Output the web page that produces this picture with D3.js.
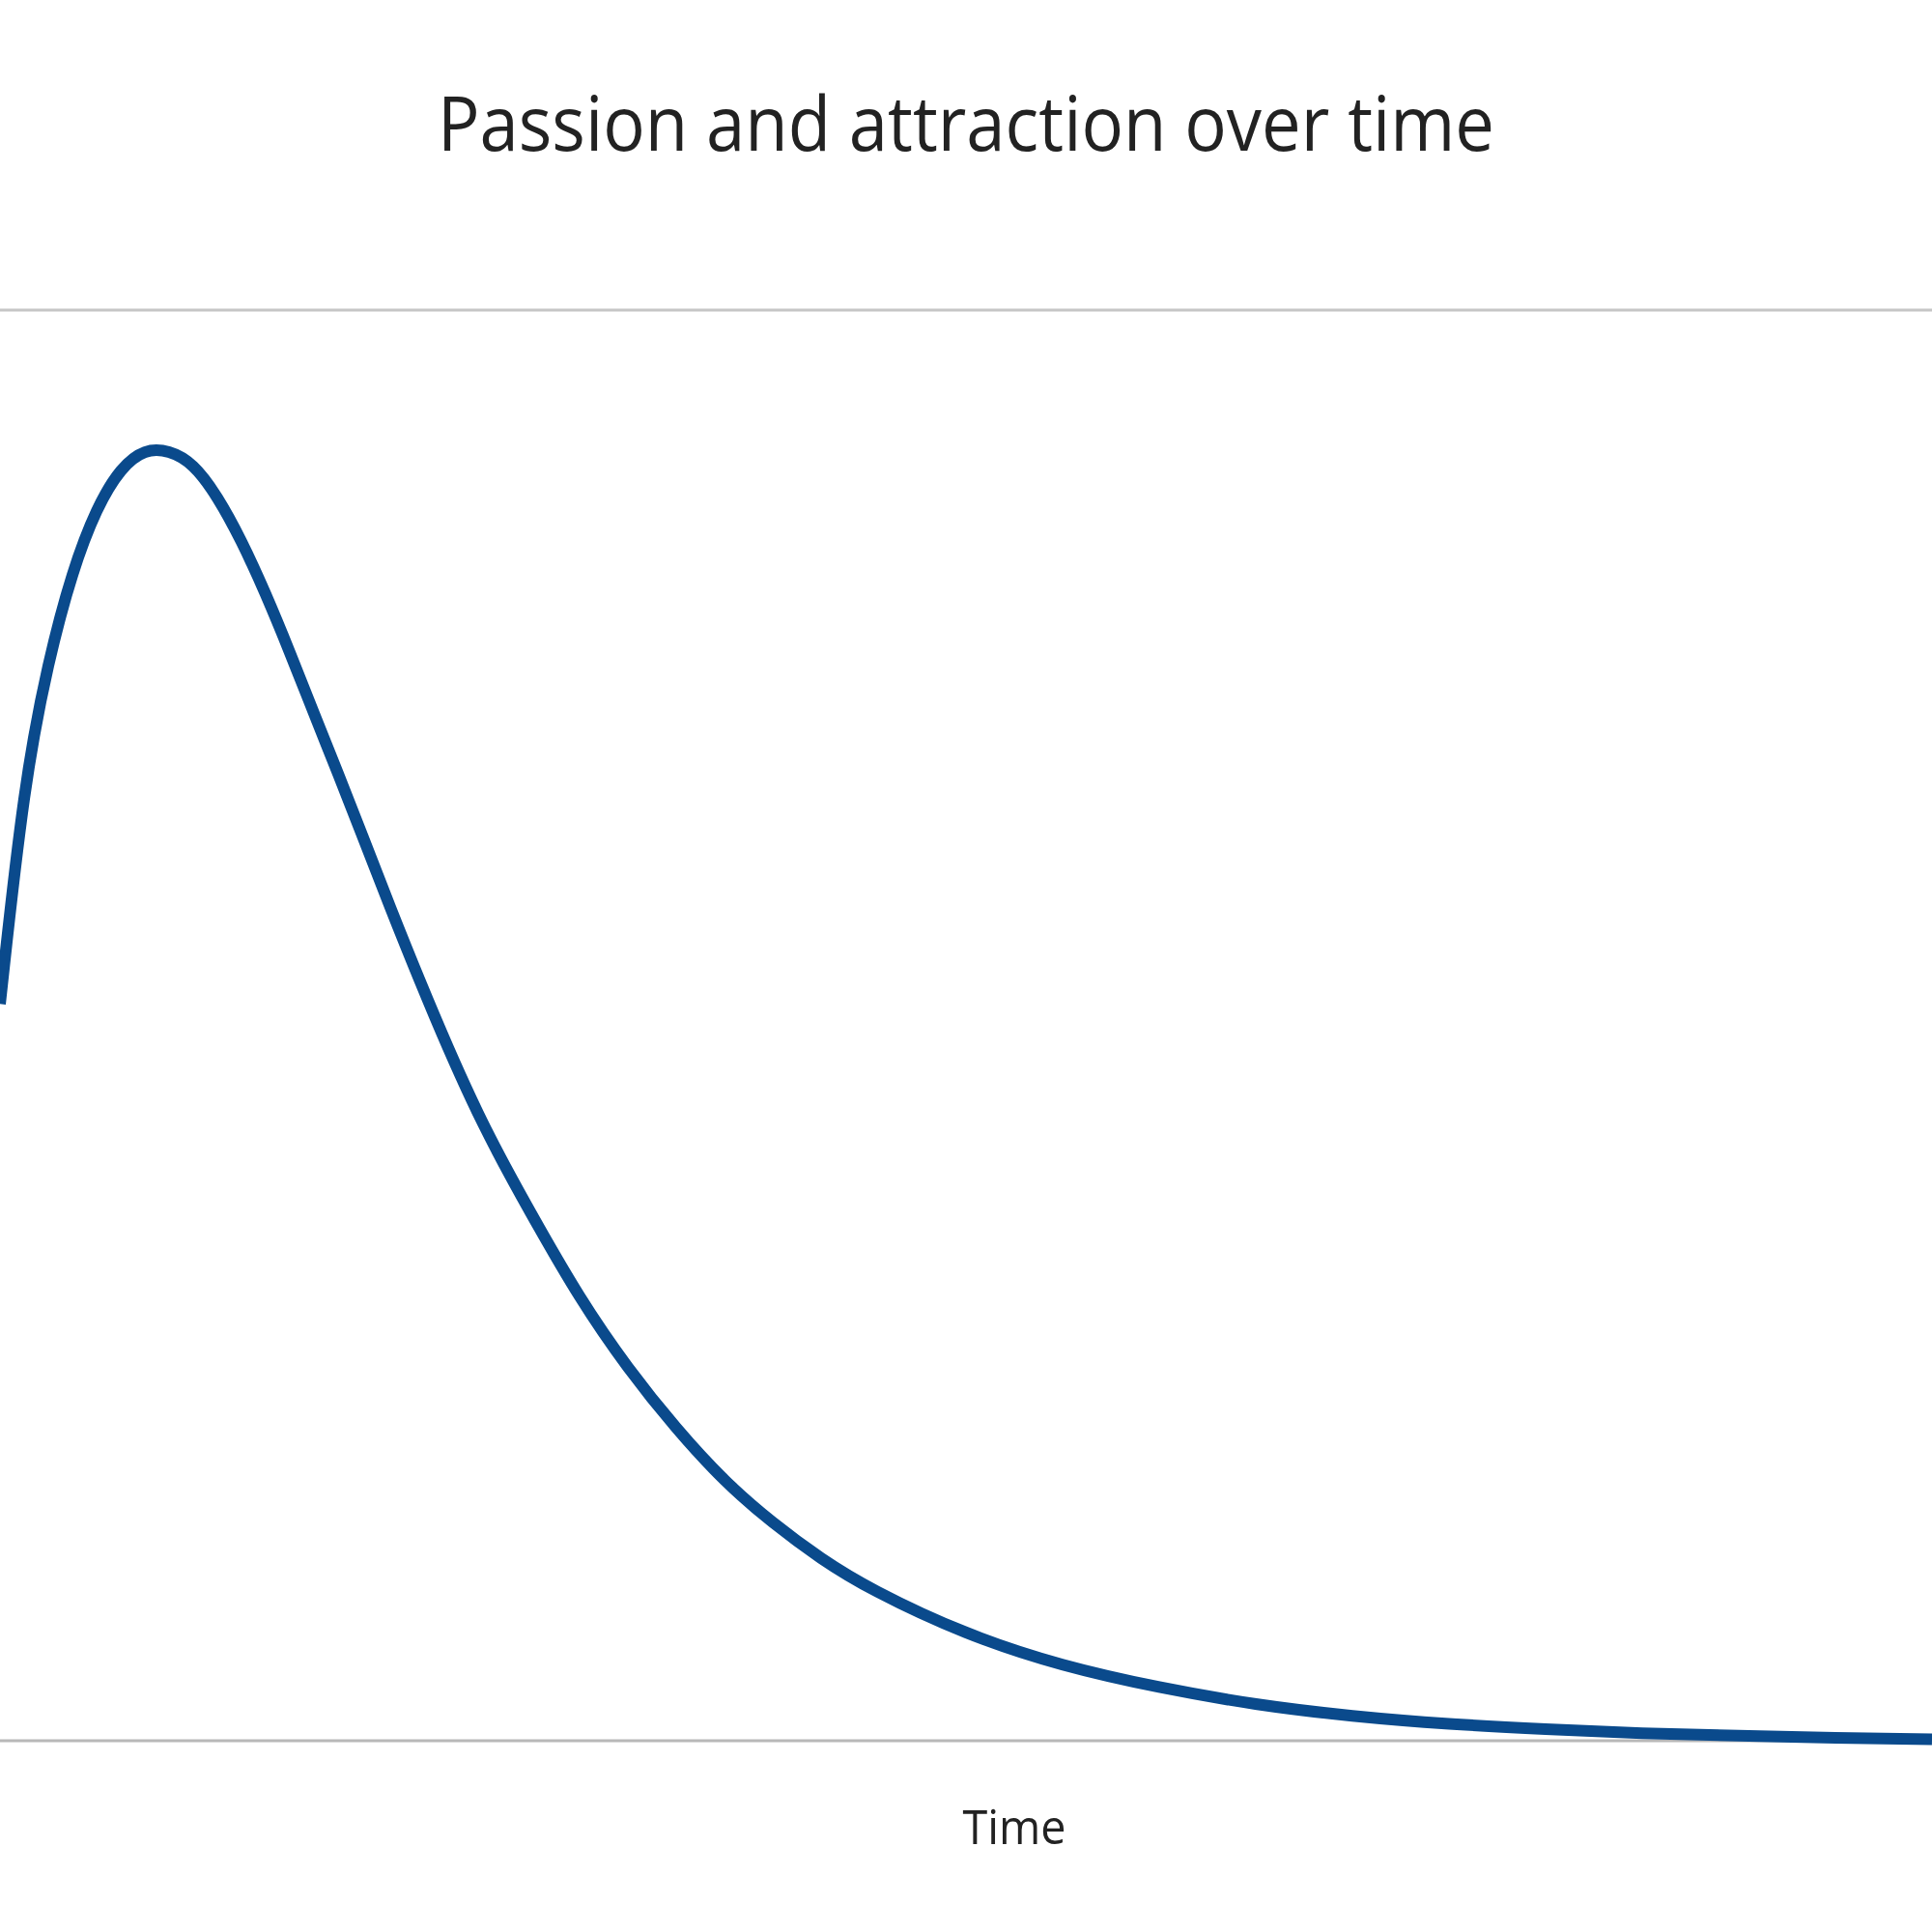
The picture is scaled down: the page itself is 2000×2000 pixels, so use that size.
<!DOCTYPE html>
<html>
<head>
<meta charset="utf-8">
<script src="https://cdn.jsdelivr.net/npm/d3@7"></script>
<style>
  html, body { margin: 0; padding: 0; background: #fff; }
  svg { display: block; }
</style>
</head>
<body>
<div id="chart"></div>
<script>
// time (arbitrary units) and passion level
const times = [0, 0.25, 0.5, 0.75, 1, 1.25, 1.5, 1.75, 2, 2.25, 2.5, 2.75, 3, 3.25,
  3.5, 3.75, 4, 4.5, 5, 5.5, 6, 6.5, 7, 7.5, 8, 8.5, 9, 10, 11, 12, 13, 14, 15, 16,
  17, 18, 19, 20];
const passion = [51.5, 67.0, 75.5, 81.8, 86.2, 89.0, 90.3, 90.2, 89.3, 87.0, 83.9,
  80.2, 76.1, 71.8, 67.6, 63.3, 58.9, 50.5, 42.9, 36.8, 30.9, 26.0, 21.8, 18.1, 15.2,
  12.7, 10.6, 7.4, 5.2, 3.7, 2.5, 1.7, 1.15, 0.8, 0.5, 0.35, 0.2, 0.1];
const yTicks = [0, 100];

const chartTitle = "Passion and attraction over time";
const xTitle = "Time";

const width = 2000;
const height = 2000;

// plot area runs a little past the picture on both sides
const plot = { left: -100, right: 2200, top: 321, bottom: 1802 };

const svg = d3
  .select("#chart")
  .append("svg")
  .attr("width", width)
  .attr("height", height);

const x = d3.scaleLinear().domain([-1, 22]).range([plot.left, plot.right]);
const y = d3.scaleLinear().domain([0, 100]).range([plot.bottom, plot.top]);

// --- Gridlines ---
svg
  .append("g")
  .selectAll("line")
  .data(yTicks)
  .join("line")
  .attr("x1", 0)
  .attr("x2", width)
  .attr("y1", (d) => y(d))
  .attr("y2", (d) => y(d))
  .attr("stroke", (d) => (d === 0 ? "#b8b8b8" : "#c6c6c6"))
  .attr("stroke-width", 3);

// --- Line ---
const data = times.map((t, i) => ({ t, v: passion[i] }));

// basis spline keeps the hand-read points from showing corners
const line = d3
  .line()
  .x((d) => x(d.t))
  .y((d) => y(d.v))
  .curve(d3.curveBasis);

svg
  .append("path")
  .datum(data)
  .attr("fill", "none")
  .attr("stroke", "#0a4a8c")
  .attr("stroke-width", 12)
  .attr("stroke-linejoin", "round")
  .attr("d", line);

// --- Titles ---
svg
  .append("text")
  .attr("x", width / 2)
  .attr("y", 156)
  .attr("text-anchor", "middle")
  .attr("font-family", "'Open Sans', sans-serif")
  .attr("font-size", 78)
  .attr("textLength", 1094)
  .attr("lengthAdjust", "spacingAndGlyphs")
  .attr("fill", "#222")
  .text(chartTitle);

svg
  .append("text")
  .attr("x", (plot.left + plot.right) / 2)
  .attr("y", 1909)
  .attr("text-anchor", "middle")
  .attr("font-family", "'Open Sans', sans-serif")
  .attr("font-size", 50)
  .attr("textLength", 107)
  .attr("lengthAdjust", "spacingAndGlyphs")
  .attr("fill", "#222")
  .text(xTitle);
</script>
</body>
</html>
